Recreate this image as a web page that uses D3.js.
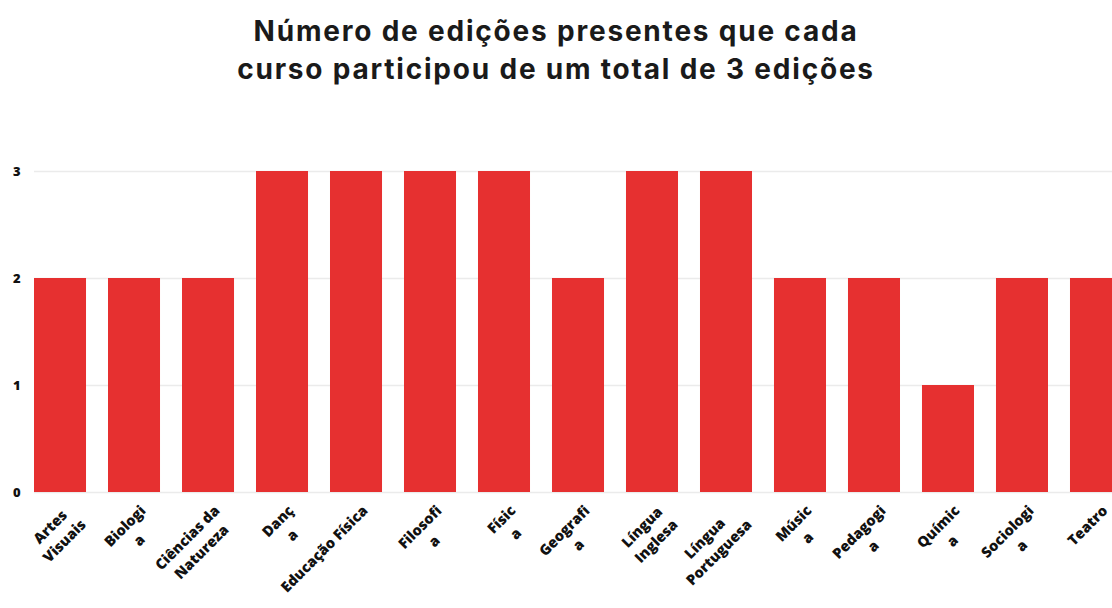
<!DOCTYPE html>
<meta charset="utf-8">
<script src="https://cdn.jsdelivr.net/npm/d3@7/dist/d3.min.js"></script>
<style>
    body { margin: 0; background: #fff; }
    svg text { font-family: "Open Sans", sans-serif; }
    .title { font-family: Inter, sans-serif; font-weight: 700; font-size: 28px; letter-spacing: 1.8px; fill: #1a1a1a; }
    .tick-y { font-weight: 800; font-size: 13px; fill: #111; }
    .lbl { font-weight: 800; font-size: 14.5px; fill: #111; }
</style>
<svg id="chart" width="1112" height="608"></svg>
<script>
    var categories = ["Artes Visuais", "Biologia", "Ciências da Natureza", "Dança", "Educação Física",
        "Filosofia", "Física", "Geografia", "Língua Inglesa", "Língua Portuguesa",
        "Música", "Pedagogia", "Química", "Sociologia", "Teatro"];
    var values = [2, 2, 2, 3, 3, 3, 3, 2, 3, 3, 2, 2, 1, 2, 2];
    // wrapped axis labels, as they appear in the picture
    var tickLabels = [["Artes", "Visuais"], ["Biologi", "a"], ["Ciências da", "Natureza"], ["Danç", "a"],
        ["Educação Física"], ["Filosofi", "a"], ["Físic", "a"], ["Geografi", "a"], ["Língua", "Inglesa"],
        ["Língua", "Portuguesa"], ["Músic", "a"], ["Pedagogi", "a"], ["Químic", "a"], ["Sociologi", "a"], ["Teatro"]];
    var yTicks = [0, 1, 2, 3];
    var titleLines = ["Número de edições presentes que cada", "curso participou de um total de 3 edições"];

    var svg = d3.select("#chart");

    svg.selectAll(".title")
        .data(titleLines)
        .enter().append("text")
        .attr("class", "title")
        .attr("x", 556)
        .attr("y", function(d, i) { return 41 + i * 38; })
        .attr("text-anchor", "middle")
        .text(function(d) { return d; });

    var x = d3.scaleBand()
        .domain(categories)
        .range([34, 1122])
        .paddingInner(0.297)
        .paddingOuter(0);

    var y = d3.scaleLinear()
        .domain([0, 3])
        .range([492, 171]);

    // grid
    svg.append("g")
        .selectAll("line")
        .data(yTicks)
        .enter().append("line")
        .attr("x1", 34)
        .attr("x2", 1112)
        .attr("y1", function(d) { return y(d) + 0.5; })
        .attr("y2", function(d) { return y(d) + 0.5; })
        .attr("stroke", "#ebebeb")
        .attr("stroke-width", 1.5);

    svg.append("g")
        .selectAll("text")
        .data(yTicks)
        .enter().append("text")
        .attr("class", "tick-y")
        .attr("x", 13)
        .attr("y", function(d) { return y(d); })
        .attr("dy", "0.35em")
        .text(function(d) { return d; });

    svg.append("g")
        .selectAll("rect")
        .data(values)
        .enter().append("rect")
        .attr("x", function(d, i) { return x(categories[i]); })
        .attr("y", function(d) { return y(d); })
        .attr("width", x.bandwidth())
        .attr("height", function(d) { return y(0) - y(d); })
        .attr("fill", "#e63030");

    // slanted labels
    var lbl = svg.append("g")
        .selectAll("g")
        .data(tickLabels)
        .enter().append("g")
        .attr("class", "lbl")
        .attr("transform", function(d, i) {
            return "translate(" + (x(categories[i]) + x.bandwidth() / 2 + 9) + ",508) rotate(-45)";
        });

    lbl.each(function(lines) {
        var g = d3.select(this);
        var t = g.selectAll("text")
            .data(lines)
            .enter().append("text")
            .attr("text-anchor", "middle")
            .attr("y", function(d, i) { return i * 20; })
            .attr("dy", "0.35em")
            .text(function(d) { return d; });
        var w = d3.max(t.nodes(), function(n) { return n.getComputedTextLength(); });
        t.attr("x", -w / 2);
    });
</script>
